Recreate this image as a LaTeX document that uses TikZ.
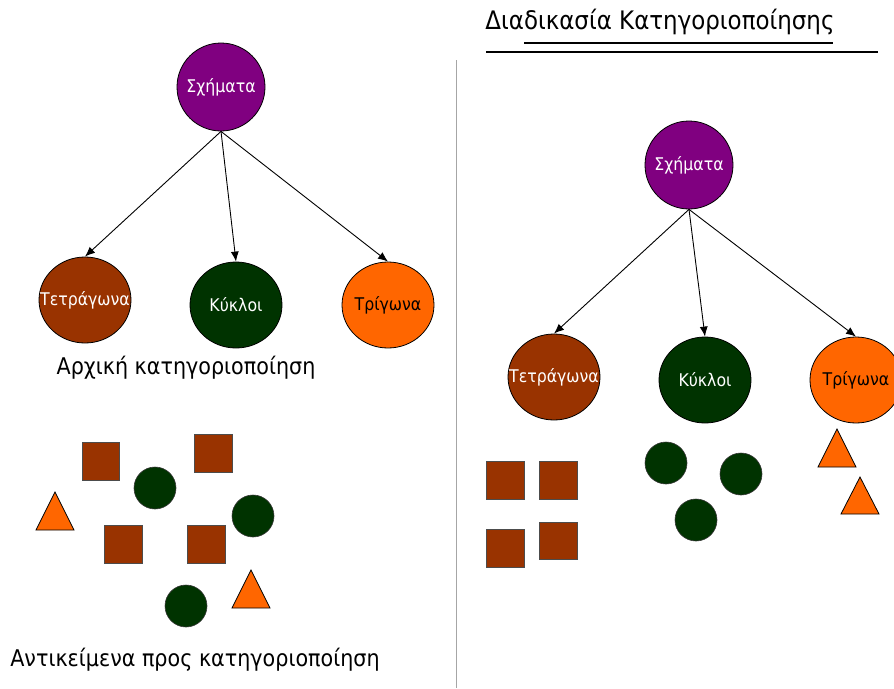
\documentclass[tikz,border=0pt]{standalone}
\usepackage{fontspec}
\setmainfont[FakeStretch=0.9]{DejaVu Sans}
\usetikzlibrary{shapes.geometric,arrows.meta}
\definecolor{purp}{HTML}{800080}
\definecolor{brownred}{HTML}{993300}
\definecolor{dgreen}{HTML}{003300}
\definecolor{orng}{HTML}{FF6600}
% label that does not widen its ellipse
\newcommand{\catlabel}[1]{\makebox[0pt]{#1}}
\begin{document}
\begin{tikzpicture}[x=1pt,y=-1pt,
  cat/.style={ellipse, draw=black, line width=0.8pt, inner sep=0pt,
    minimum width=92pt, minimum height=86pt, font=\fontsize{17.5}{20}\selectfont},
  root/.style={cat, fill=purp, text=white, minimum width=88pt, minimum height=88pt},
  sqcat/.style={cat, fill=brownred, text=white},
  cicat/.style={cat, fill=dgreen, text=white},
  trcat/.style={cat, fill=orng, text=black},
  link/.style={-{Latex[length=10pt,width=8pt]}, line width=0.9pt},
  sqr/.style={fill=brownred, draw=black!70, line width=0.7pt},
  circ/.style={fill=dgreen, draw=black!80, line width=0.6pt},
  tri/.style={fill=orng, draw=black, line width=0.8pt, line join=miter},
  caption/.style={font=\fontsize{23}{26}\selectfont, inner sep=0pt}
]
\useasboundingbox (0,0) rectangle (894,688);

% separator between the two halves
\draw[black!35, line width=0.8pt] (456,60) -- (456,688);

% title with its two rules
\node[font=\fontsize{25.5}{28}\selectfont, inner sep=0pt] (title) at (660,22) {Διαδικασία Κατηγοριοποίησης};
\draw[line width=1.6pt] (524,43) -- (833,43);
\draw[line width=1.6pt] (486,52) -- (878,52);

% ---------- left: initial classification ----------
\node[root] (Ls) at (221,87) {\catlabel{Σχήματα}};
\node[sqcat] (Lsq) at (85,300) {\catlabel{Τετράγωνα}};
\node[cicat] (Lci) at (236,305) {\catlabel{Κύκλοι}};
\node[trcat] (Ltr) at (388,305) {\catlabel{Τρίγωνα}};
\draw[link] (Ls.south) -- (Lsq.north);
\draw[link] (Ls.south) -- (Lci.north);
\draw[link] (Ls.south) -- (Ltr.north);
\node[caption] (Lcap) at (186,368) {Αρχική κατηγοριοποίηση};

% mixed objects
\path[sqr] (82,442) rectangle (119,480);
\path[sqr] (194,434) rectangle (232,472);
\path[sqr] (104,525) rectangle (142,563);
\path[sqr] (187,525) rectangle (225,563);
\path[circ] (155,488) circle [radius=21pt];
\path[circ] (253,516) circle [radius=21pt];
\path[circ] (186,606) circle [radius=21pt];
\path[tri] (55,492) -- (74,530) -- (36,530) -- cycle;
\path[tri] (251,570) -- (270,608) -- (232,608) -- cycle;
\node[caption] (Lobj) at (195,660) {Αντικείμενα προς κατηγοριοποίηση};

% ---------- right: objects sorted into categories ----------
\node[root] (Rs) at (689,165) {\catlabel{Σχήματα}};
\node[sqcat] (Rsq) at (554,377) {\catlabel{Τετράγωνα}};
\node[cicat] (Rci) at (705,380) {\catlabel{Κύκλοι}};
\node[trcat] (Rtr) at (856,380) {\catlabel{Τρίγωνα}};
\draw[link] (Rs.south) -- (Rsq.north);
\draw[link] (Rs.south) -- (Rci.north);
\draw[link] (Rs.south) -- (Rtr.north);

\path[sqr] (486,461) rectangle (524,499);
\path[sqr] (539,461) rectangle (577,499);
\path[sqr] (486,529) rectangle (524,567);
\path[sqr] (539,522) rectangle (577,559);
\path[circ] (666,463) circle [radius=21pt];
\path[circ] (741,474) circle [radius=21pt];
\path[circ] (696,520) circle [radius=21pt];
\path[tri] (837,429) -- (856,467) -- (818,467) -- cycle;
\path[tri] (860,477) -- (879,514) -- (841,514) -- cycle;
\end{tikzpicture}
\end{document}
